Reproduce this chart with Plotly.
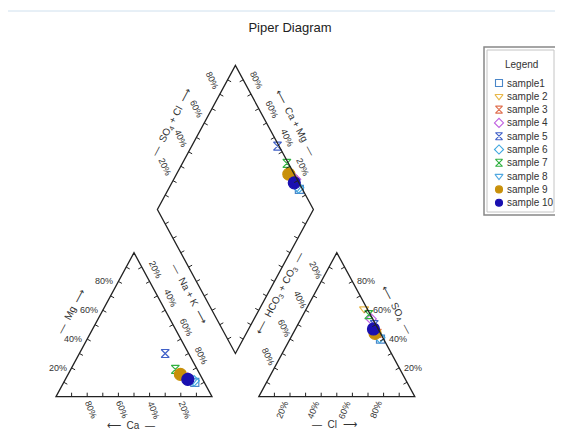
import numpy as np
import plotly.graph_objects as go

# sample values (meq %)
samples = ['sample1', 'sample 2', 'sample 3', 'sample 4', 'sample 5',
           'sample 6', 'sample 7', 'sample 8', 'sample 9', 'sample 10']
ca = np.array([6, 10, 9, 9, 15, 6, 14, 7, 12.5, 9.5])
mg = np.array([10, 14, 12, 13, 30, 11, 19, 11, 15.5, 12])
hco3 = np.array([2, 2, 2, 1, 1, 2, 1, 3, 3.5, 3])
so4 = np.array([40, 61, 44, 54, 50, 41, 57, 43, 44, 47])
nak = 100 - ca - mg
cl = 100 - hco3 - so4

colors = ['#4a86c8', '#e8b84a', '#e07050', '#c060e0', '#4060c8',
          '#40a8e0', '#30b040', '#50a8e0', '#c8900a', '#1a10b0']
symbols = ['square-open', 'triangle-down-open', 'hourglass-open', 'diamond-open',
           'hourglass-open', 'diamond-open', 'hourglass-open', 'triangle-down-open',
           'circle', 'circle']
sizes = [8, 8, 8, 8, 8, 8, 8, 8, 12, 12]

# the page body has an 8px margin, so everything is laid out 8px up-left
OFF = 8
W, HT = 563, 433

# geometry: triangle side = 1, gap between triangles = G
H = np.sqrt(3) / 2
G = 0.3
SX, SY = 156, 166.3                  # pixels per unit
X0, Y0 = 56 - OFF, 396.7 - OFF       # pixel position of origin

B = (1 + G / 2, G * H)
R = (1.5 + G / 2, H * (1 + G))
T = (1 + G / 2, H * (2 + G))
L = (0.5 + G / 2, H * (1 + G))

tri_l = [(0, 0), (1, 0), (0.5, H)]
tri_r = [(1 + G, 0), (2 + G, 0), (1.5 + G, H)]
diamond = [B, R, T, L]

FONT = 'Liberation Sans, Arial, sans-serif'
fig = go.Figure()

def poly_path(pts):
    return 'M ' + ' L '.join(f'{x},{y}' for x, y in pts) + ' Z'

shapes = []
for poly in [tri_l, tri_r, diamond]:
    shapes.append(dict(type='path', path=poly_path(poly), xref='x', yref='y',
                       line=dict(color='#222', width=1.3)))
    # ticks every 10 %
    n = len(poly)
    for i in range(n):
        (ax, ay), (bx, by) = poly[i], poly[(i + 1) % n]
        dxp, dyp = (bx - ax) * SX, (by - ay) * SY
        ln = np.hypot(dxp, dyp)
        nx, ny = -dyp / ln, dxp / ln
        for k in range(1, 10):
            px, py = ax + (bx - ax) * k / 10, ay + (by - ay) * k / 10
            shapes.append(dict(type='line', xref='x', yref='y', x0=px, y0=py,
                               x1=px + nx * 4 / SX, y1=py + ny * 4 / SY,
                               line=dict(color='#222', width=1)))

ann = []
def label(x, y, text, dx=0, dy=0, angle=0, xanchor='center', size=9, ref='x'):
    ann.append(dict(x=x, y=y, xref=ref, yref=ref.replace('x', 'y'), text=text,
                    showarrow=False, xshift=dx, yshift=dy, textangle=angle,
                    xanchor=xanchor, font=dict(family=FONT, size=size, color='#333')))

for v in [0.2, 0.4, 0.6, 0.8]:
    pct = f'{int(v * 100)}%'
    # left triangle
    label(1 - v, 0, pct, 4, -13, 68)                             # Ca
    label(0.5 * v, H * v, pct, -3, 0, 0, 'right')                # Mg
    label(0.5 + 0.5 * v, H * (1 - v), pct, 5, 12, 65)            # Na + K
    # right triangle
    label(1 + G + v, 0, pct, -8, -13, -68)                       # Cl
    label(2 + G - 0.5 * v, H * v, pct, 3, 0, 0, 'left')          # SO4
    label(1.5 + G - 0.5 * v, H * (1 - v), pct, -6, 11, 65)       # HCO3 + CO3
    # diamond
    label(L[0] + 0.5 * v, L[1] + H * v, pct, -8, 14, 65)         # SO4 + Cl
    label(R[0] - 0.5 * v, R[1] + H * v, pct, 5, 14, 65)          # Ca + Mg

TS = 10
label(0.5, 0, '⟵  Ca  —', -3, -29, 0, size=TS)
label(1.5 + G, 0, '—  Cl  ⟶', -2, -28, 0, size=TS)
label(0.25, H / 2, '—  Mg  ⟶', -24, 13, -62, size=TS)
label(1.75 + G, H / 2, '⟵  SO<sub>4</sub>  —', 21, 15, 62, size=TS)
label(0.825, 0.563, '—  Na + K  ⟶', 5, 10, 62, size=TS)
label(1.475, 0.563, '⟵  HCO<sub>3</sub> + CO<sub>3</sub>  —', -6, 10, -62, size=TS)
label((L[0] + T[0]) / 2, (L[1] + T[1]) / 2, '—  SO<sub>4</sub> + Cl  ⟶', -24, 15, -62, size=TS)
label((R[0] + T[0]) / 2, (R[1] + T[1]) / 2, '⟵  Ca + Mg  —', 21, 15, 62, size=TS)

# data points: cation triangle, anion triangle, diamond
for i, name in enumerate(samples):
    xc = nak[i] / 100 + 0.5 * mg[i] / 100
    yc = H * mg[i] / 100
    xa = 1 + G + cl[i] / 100 + 0.5 * so4[i] / 100
    ya = H * so4[i] / 100
    cm = (ca[i] + mg[i]) / 100
    sc = (so4[i] + cl[i]) / 100
    xd = B[0] + 0.5 * (sc - cm)
    yd = B[1] + H * (sc + cm)
    fig.add_trace(go.Scatter(
        x=[xc, xa, xd], y=[yc, ya, yd], mode='markers', name=name, showlegend=False,
        marker=dict(symbol=symbols[i], color=colors[i], size=sizes[i],
                    line=dict(color=colors[i], width=1.2))))

# hand-drawn legend on a pixel-space overlay axis
LG_X, LG_Y, LG_DY = 499 - OFF, 83 - OFF, 13.3
for i, name in enumerate(samples):
    fig.add_trace(go.Scatter(
        x=[LG_X], y=[LG_Y + i * LG_DY], xaxis='x2', yaxis='y2', mode='markers',
        showlegend=False, hoverinfo='skip',
        marker=dict(symbol=symbols[i], color=colors[i], size=7,
                    line=dict(color=colors[i], width=1.1))))
    label(LG_X + 6, LG_Y + i * LG_DY, name, 0, 0, 0, 'left', size=10, ref='x2')
label(521 - OFF, 64 - OFF, 'Legend', 0, 0, 0, size=10, ref='x2')

shapes.append(dict(type='line', xref='paper', yref='paper', x0=0, x1=1,
                   y0=1 - (11 - OFF) / HT, y1=1 - (11 - OFF) / HT,
                   line=dict(color='#cfe0ee', width=1)))
shapes.append(dict(type='rect', xref='x2', yref='y2',
                   x0=484 - OFF, x1=557 - OFF, y0=47 - OFF, y1=215 - OFF,
                   line=dict(color='#888', width=1.5)))
shapes.append(dict(type='rect', xref='x2', yref='y2',
                   x0=487 - OFF, x1=554 - OFF, y0=50 - OFF, y1=212 - OFF,
                   line=dict(color='#c4c4c4', width=1)))

fig.update_layout(
    width=W, height=HT, margin=dict(l=0, r=0, t=0, b=0),
    plot_bgcolor='white', paper_bgcolor='white', showlegend=False,
    xaxis=dict(range=[-X0 / SX, (W - X0) / SX], visible=False),
    yaxis=dict(range=[(Y0 - HT) / SY, Y0 / SY], visible=False),
    xaxis2=dict(range=[0, W], visible=False, overlaying='x', anchor='y2'),
    yaxis2=dict(range=[HT, 0], visible=False, overlaying='y', anchor='x2'),
    title=dict(text='Piper Diagram', x=(290 - OFF) / W, xanchor='center',
               y=1 - (27 - OFF) / HT, yanchor='middle',
               font=dict(family=FONT, size=13, color='#222')),
    shapes=shapes, annotations=ann,
)

fig.write_html('out.html')
